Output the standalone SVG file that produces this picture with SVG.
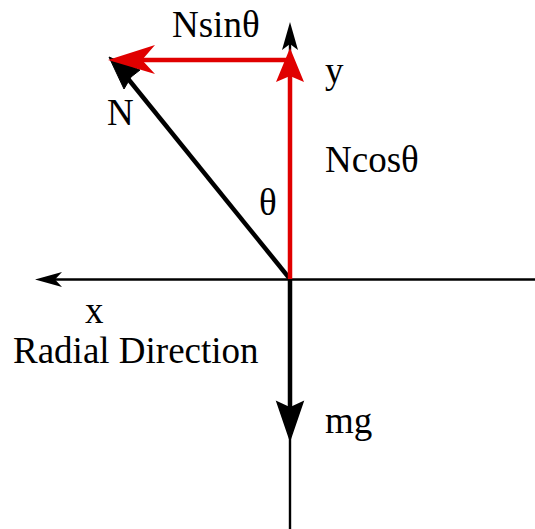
<svg xmlns="http://www.w3.org/2000/svg" width="535" height="529" viewBox="0 0 535 529">
<style>
text{font-family:"Liberation Serif","Times New Roman",serif;font-size:37px;fill:#000}
.ax{stroke:#000;stroke-width:2.4;fill:none}
.vb{stroke:#000;stroke-width:4.5;fill:none}
.vr{stroke:#e00000;stroke-width:4.5;fill:none}
</style>
<rect width="535" height="529" fill="#fff"/>
<g id="connectors">
<line class="ax" x1="48" y1="279.5" x2="535" y2="279.5"/>
<path d="M35,279.5 L62,272 L55,279.5 L62,287 Z" fill="#000"/>
<line class="ax" x1="290" y1="40" x2="290" y2="529"/>
<path d="M290,22 L298,50 L290,44 L282,50 Z" fill="#000"/>
<line class="vb" x1="290" y1="279" x2="290" y2="410"/>
<path d="M290,440 L277,402 L290,408 L303,402 Z" fill="#000" stroke="#000" stroke-width="1.5"/>
<line class="vb" x1="290" y1="279" x2="125" y2="75"/>
<path d="M109,57 L140,70 L131,77 L124,89 Z" fill="#000" stroke="#000" stroke-width="1"/>
<line class="vr" x1="290" y1="279" x2="290" y2="70"/>
<path d="M290,48 L304,82 L290,76 L276,82 Z" fill="#e00000"/>
<line class="vr" x1="292" y1="60" x2="130" y2="60"/>
<path d="M108,60 L155,45 L142,60 L155,74 Z" fill="#e00000"/>
</g>
<g id="labels">
<text x="172" y="37">Nsinθ</text>
<text x="325" y="83">y</text>
<text x="107" y="125">N</text>
<text x="325" y="172">Ncosθ</text>
<text x="259" y="215">θ</text>
<text x="85" y="323">x</text>
<text x="13" y="363">Radial Direction</text>
<text x="325" y="433">mg</text>
</g>
</svg>
